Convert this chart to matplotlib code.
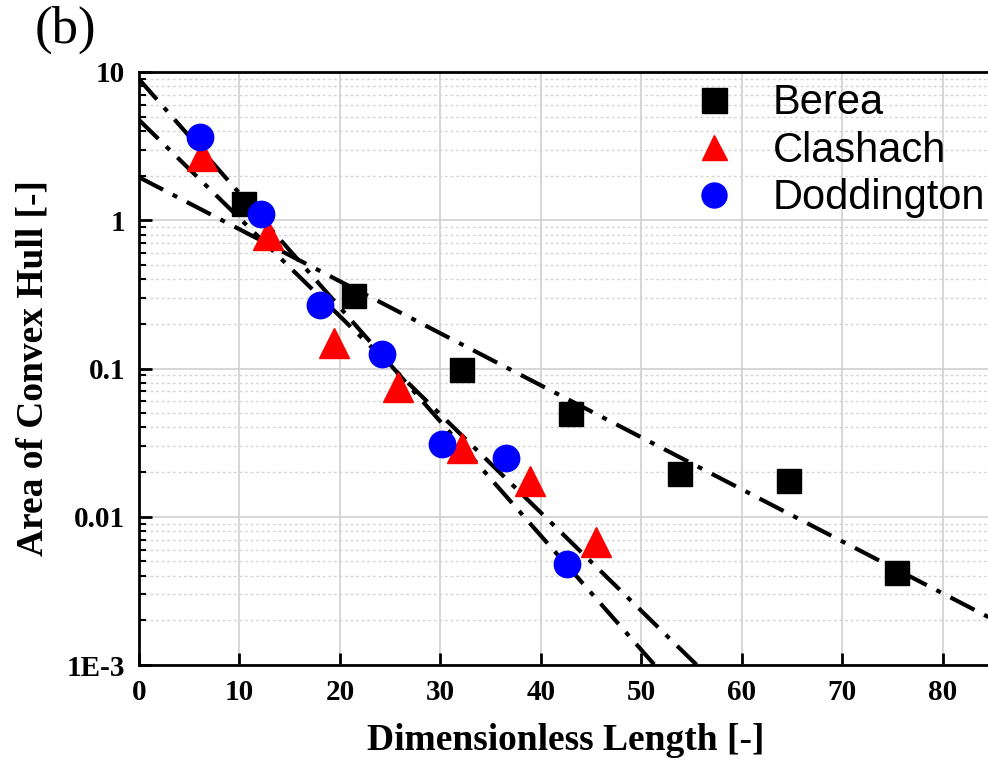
import numpy as np
import matplotlib
matplotlib.use('Agg')
import matplotlib.pyplot as plt
from matplotlib.ticker import LogLocator, FixedLocator, FixedFormatter, NullFormatter

# Data
berea_x = [10.5, 21.4, 32.1, 43.0, 53.8, 64.7, 75.4]
berea_y = [1.28, 0.306, 0.097, 0.049, 0.0195, 0.0173, 0.0042]

clashach_x = [6.3, 12.8, 19.4, 25.8, 32.1, 38.9, 45.5]
clashach_y = [2.7, 0.79, 0.148, 0.075, 0.029, 0.0175, 0.0068]

doddington_x = [6.1, 12.1, 18.0, 24.2, 30.2, 36.5, 42.6]
doddington_y = [3.64, 1.1, 0.27, 0.126, 0.031, 0.025, 0.0048]

# exponential fits y = a * exp(b * x)
fit_a = [1.95, 4.75, 8.95]
fit_b = [-0.0808, -0.1525, -0.1773]

y_ticks = [1e-3, 1e-2, 1e-1, 1, 10]
y_tick_labels = ['1E-3', '0.01', '0.1', '1', '10']
x_ticks = [0, 10, 20, 30, 40, 50, 60, 70, 80]

serif = 'Liberation Serif'
sans = 'Liberation Sans'

fig = plt.figure(figsize=(9.88, 7.6), dpi=100)
ax = fig.add_axes([139 / 988, 1 - 665 / 760, 854 / 988, 593 / 760])

ax.set_yscale('log')
ax.set_xlim(0, 85)
ax.set_ylim(1e-3, 10)

# grid
ax.grid(True, which='major', color='#cfcfcf', linewidth=1.2, linestyle='-')
ax.yaxis.grid(True, which='minor', color='#d5d5d5', linewidth=1.0, linestyle=(0, (2, 2)))
ax.set_axisbelow(True)

# fit lines
xx = np.linspace(0, 85, 400)
for a, b in zip(fit_a, fit_b):
    ax.plot(xx, a * np.exp(b * xx), color='black', linewidth=3.0,
            linestyle=(0, (6.5, 2.6, 1.2, 2.6)), zorder=3)

ax.plot(berea_x, berea_y, 's', color='black', markersize=17, label='Berea', zorder=4, linestyle='none')
ax.plot(clashach_x, clashach_y, '^', color='red', markersize=21, label='Clashach', zorder=4, linestyle='none')
ax.plot(doddington_x, doddington_y, 'o', color='blue', markersize=19, label='Doddington', zorder=4, linestyle='none')

# ticks
ax.xaxis.set_major_locator(FixedLocator(x_ticks))
ax.yaxis.set_major_locator(FixedLocator(y_ticks))
ax.yaxis.set_major_formatter(FixedFormatter(y_tick_labels))
ax.yaxis.set_minor_locator(LogLocator(base=10, subs=np.arange(2, 10), numticks=20))
ax.yaxis.set_minor_formatter(NullFormatter())
ax.tick_params(which='major', direction='in', length=9, width=2, pad=10)
ax.tick_params(which='minor', direction='in', length=5, width=1.5)
ax.tick_params(axis='x', which='minor', bottom=False)
for lab in ax.get_xticklabels() + ax.get_yticklabels():
    lab.set_fontfamily(serif)
    lab.set_fontweight('bold')
    lab.set_fontsize(21)

for sp in ax.spines.values():
    sp.set_linewidth(2)

ax.set_xlabel('Dimensionless Length [-]', fontfamily=serif, fontweight='bold', fontsize=27, labelpad=12)
ax.set_ylabel('Area of Convex Hull [-]', fontfamily=serif, fontweight='bold', fontsize=27, labelpad=12)

leg = ax.legend(loc='upper right', bbox_to_anchor=(1.025, 1.03), frameon=False,
                prop={'family': sans, 'size': 30}, handletextpad=0.85,
                labelspacing=0.18, borderaxespad=0.3, handlelength=1.1)
for h in leg.legend_handles:
    h.set_markersize(18)

fig.text(0.035, 0.993, '(b)', fontfamily=serif, fontsize=38, va='top', ha='left')

fig.savefig('out.png', dpi=100)
